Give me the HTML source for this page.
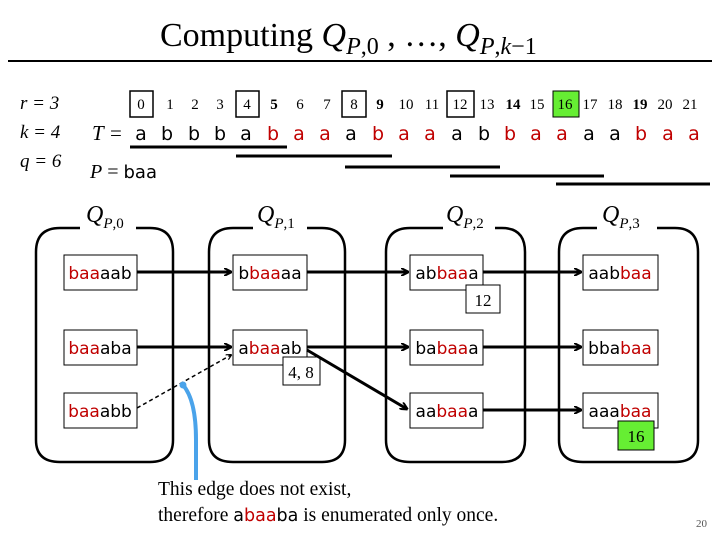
<!DOCTYPE html>
<html><head><meta charset="utf-8"><style>
body{margin:0;background:#fff}
svg{display:block}
.s{font-family:"DejaVu Sans","Liberation Sans",sans-serif}
.r{font-family:"Liberation Serif",serif}
.red{fill:#c00000}
</style></head><body>
<svg width="720" height="540" viewBox="0 0 720 540">
<defs><marker id="ar" markerWidth="8" markerHeight="8" refX="7" refY="4" orient="auto" markerUnits="userSpaceOnUse"><path d="M0,0 L8,4 L0,8" fill="none" stroke="#000" stroke-width="2"/></marker>
<marker id="ad" markerWidth="6" markerHeight="6" refX="5" refY="3" orient="auto" markerUnits="userSpaceOnUse"><path d="M0,0 L6,3 L0,6" fill="none" stroke="#000" stroke-width="1.2"/></marker></defs>
<text x="160" y="46" class="r" font-size="34">Computing <tspan font-style="italic">Q</tspan><tspan font-size="24" font-style="italic" dy="8">P</tspan><tspan font-size="24" dy="0">,0</tspan><tspan dy="-8"> , …, </tspan><tspan font-style="italic">Q</tspan><tspan font-size="24" font-style="italic" dy="8">P</tspan><tspan font-size="24">,</tspan><tspan font-size="24" font-style="italic">k</tspan><tspan font-size="24">−1</tspan></text>
<line x1="8" y1="61" x2="712" y2="61" stroke="#000" stroke-width="2"/>
<g class="r" font-size="19" font-style="italic"><text x="20" y="109">r = 3</text><text x="20" y="138">k = 4</text><text x="20" y="167">q = 6</text></g>
<g class="r" font-size="15" text-anchor="middle">
<text x="141" y="109">0</text><text x="170" y="109">1</text><text x="195" y="109">2</text><text x="220" y="109">3</text><text x="247" y="109">4</text><text x="274" y="109" font-weight="bold">5</text><text x="300" y="109">6</text><text x="327" y="109">7</text><text x="354" y="109">8</text><text x="380" y="109" font-weight="bold">9</text><text x="406" y="109">10</text><text x="432" y="109">11</text><text x="460" y="109">12</text><text x="487" y="109">13</text><text x="513" y="109" font-weight="bold">14</text><text x="537" y="109">15</text><text x="565" y="109">16</text><text x="590" y="109">17</text><text x="615" y="109">18</text><text x="640" y="109" font-weight="bold">19</text><text x="665" y="109">20</text><text x="690" y="109">21</text>
</g>
<rect x="553" y="91" width="26" height="26" fill="#66ee33" stroke="#000"/>
<text x="565" y="109" class="r" font-size="15" text-anchor="middle">16</text>
<g fill="none" stroke="#000" stroke-width="1.5"><rect x="130" y="91" width="23" height="26"/><rect x="236" y="91" width="23" height="26"/><rect x="342" y="91" width="24" height="26"/><rect x="447" y="91" width="27" height="26"/></g>
<text x="92" y="140" class="r" font-size="21" font-style="italic">T</text><text x="110" y="140" class="r" font-size="21">=</text>
<g class="s" font-size="19" text-anchor="middle">
<text x="141" y="140">a</text><text x="167" y="140">b</text><text x="194" y="140">b</text><text x="220" y="140">b</text><text x="246" y="140">a</text><text x="273" y="140" class="red">b</text><text x="299" y="140" class="red">a</text><text x="325" y="140" class="red">a</text><text x="351" y="140">a</text><text x="378" y="140" class="red">b</text><text x="404" y="140" class="red">a</text><text x="430" y="140" class="red">a</text><text x="457" y="140">a</text><text x="484" y="140">b</text><text x="510" y="140" class="red">b</text><text x="536" y="140" class="red">a</text><text x="562" y="140" class="red">a</text><text x="589" y="140">a</text><text x="615" y="140">a</text><text x="641" y="140" class="red">b</text><text x="668" y="140" class="red">a</text><text x="694" y="140" class="red">a</text>
</g>
<g stroke="#000" stroke-width="3"><line x1="130" y1="147" x2="287" y2="147"/><line x1="236" y1="156" x2="392" y2="156"/><line x1="345" y1="167" x2="500" y2="167"/><line x1="450" y1="176" x2="604" y2="176"/><line x1="556" y1="184" x2="710" y2="184"/></g>
<text x="90" y="178" class="r" font-size="20"><tspan font-style="italic">P</tspan> = <tspan class="s" font-size="18">baa</tspan></text>
<g fill="none" stroke="#000" stroke-width="2.5">
<path d="M80,228 H60 Q36,228 36,252 V440 Q36,462 60,462 H150 Q173,462 173,440 V252 Q173,228 150,228 H136"/>
<path d="M253,228 H233 Q209,228 209,252 V440 Q209,462 233,462 H322 Q345,462 345,440 V252 Q345,228 322,228 H307"/>
<path d="M443,228 H410 Q386,228 386,252 V440 Q386,462 410,462 H502 Q525,462 525,440 V252 Q525,228 502,228 H495"/>
<path d="M597,228 H583 Q559,228 559,252 V440 Q559,462 583,462 H675 Q698,462 698,440 V252 Q698,228 675,228 H657"/>
</g>
<g class="r" font-size="24" font-style="italic">
<text x="86" y="222">Q<tspan font-size="15" dy="6">P</tspan><tspan font-style="normal" font-size="15">,0</tspan></text>
<text x="257" y="222">Q<tspan font-size="15" dy="6">P</tspan><tspan font-style="normal" font-size="15">,1</tspan></text>
<text x="446" y="222">Q<tspan font-size="15" dy="6">P</tspan><tspan font-style="normal" font-size="15">,2</tspan></text>
<text x="602" y="222">Q<tspan font-size="15" dy="6">P</tspan><tspan font-style="normal" font-size="15">,3</tspan></text>
</g>
<g fill="#fff" stroke="#000" stroke-width="1">
<rect x="64" y="255" width="73" height="35"/><rect x="64" y="330" width="73" height="35"/><rect x="64" y="393" width="73" height="35"/>
<rect x="233" y="255" width="74" height="35"/><rect x="233" y="330" width="74" height="35"/>
<rect x="410" y="255" width="73" height="35"/><rect x="410" y="330" width="73" height="35"/><rect x="410" y="393" width="73" height="35"/>
<rect x="583" y="255" width="75" height="35"/><rect x="583" y="330" width="75" height="35"/><rect x="583" y="393" width="75" height="35"/>
<rect x="466" y="285" width="34" height="28"/><rect x="283" y="357" width="37" height="28"/>
</g>
<rect x="618" y="421" width="36" height="29" fill="#66ee33" stroke="#000"/>
<g class="r" font-size="17" text-anchor="middle"><text x="483" y="306">12</text><text x="301" y="378">4, 8</text><text x="636" y="442">16</text></g>
<g class="s" font-size="17" text-anchor="middle">
<text x="100" y="279"><tspan class="red">baa</tspan>aab</text>
<text x="100" y="354"><tspan class="red">baa</tspan>aba</text>
<text x="100" y="417"><tspan class="red">baa</tspan>abb</text>
<text x="270" y="279">b<tspan class="red">baa</tspan>aa</text>
<text x="270" y="354">a<tspan class="red">baa</tspan>ab</text>
<text x="447" y="279">ab<tspan class="red">baa</tspan>a</text>
<text x="447" y="354">ba<tspan class="red">baa</tspan>a</text>
<text x="447" y="417">aa<tspan class="red">baa</tspan>a</text>
<text x="620" y="279">aab<tspan class="red">baa</tspan></text>
<text x="620" y="354">bba<tspan class="red">baa</tspan></text>
<text x="620" y="417">aaa<tspan class="red">baa</tspan></text>
</g>
<g stroke="#000" stroke-width="3" marker-end="url(#ar)">
<line x1="137" y1="272" x2="231" y2="272"/><line x1="307" y1="272" x2="408" y2="272"/><line x1="483" y1="272" x2="581" y2="272"/>
<line x1="137" y1="347" x2="231" y2="347"/><line x1="307" y1="347" x2="408" y2="347"/><line x1="483" y1="347" x2="581" y2="347"/>
<line x1="307" y1="350" x2="407" y2="409"/><line x1="483" y1="410" x2="581" y2="410"/>
</g>
<line x1="137" y1="408" x2="231" y2="355" stroke="#000" stroke-width="1.5" stroke-dasharray="4,3" marker-end="url(#ad)"/>
<path d="M196,480 V440 Q196,400 183,385" fill="none" stroke="#4aa3ea" stroke-width="4"/>
<circle cx="183" cy="385" r="3.5" fill="#4aa3ea"/>
<text x="158" y="495" class="r" font-size="19.5">This edge does not exist,</text>
<text x="158" y="521" class="r" font-size="19.5">therefore <tspan class="s" font-size="17.5">a<tspan class="red">baa</tspan>ba</tspan> is enumerated only once.</text>
<text x="696" y="527" class="r" font-size="11" fill="#555">20</text>
</svg>
</body></html>
